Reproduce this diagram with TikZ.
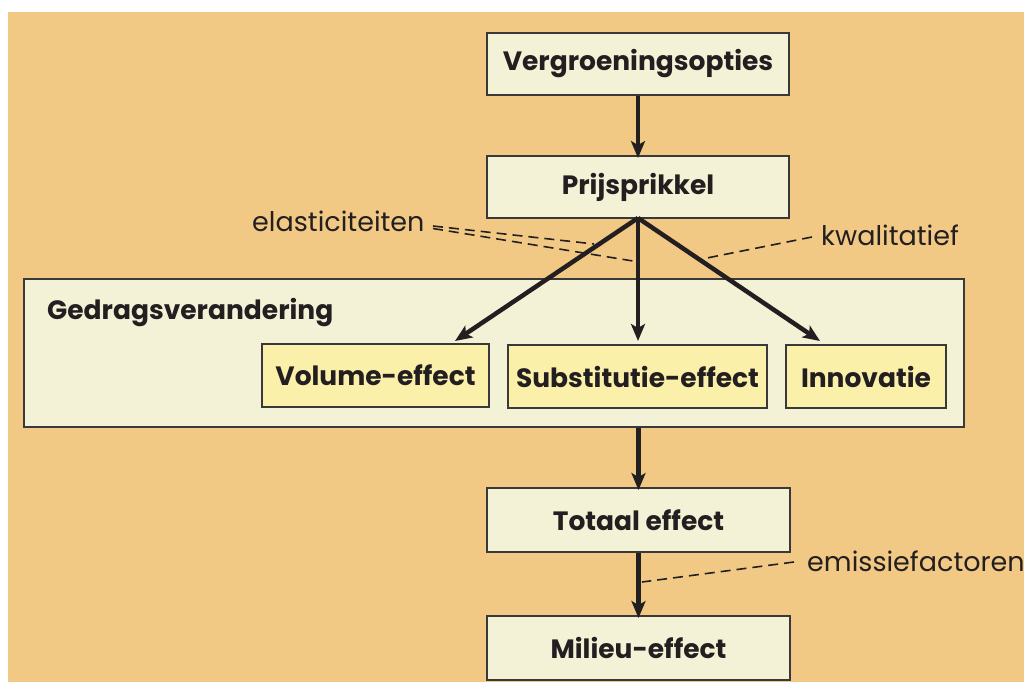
\documentclass[tikz,border=0pt]{standalone}
\usepackage{fontspec}
\setmainfont{Poppins}
\usetikzlibrary{arrows.meta}
\definecolor{bgorange}{HTML}{F2C984}
\definecolor{boxcream}{HTML}{F4F2D6}
\definecolor{boxyellow}{HTML}{FAF0AA}
\definecolor{edge}{HTML}{3A3838}
\definecolor{ink}{HTML}{231F20}
\tikzset{
  box/.style={draw=edge, line width=1.8pt, fill=boxcream, inner sep=0pt, text=ink,
    font=\fontsize{26.5}{30}\selectfont\bfseries},
  ibox/.style={box, fill=boxyellow},
  flow/.style={draw=ink, line width=4.5pt, -{Stealth[length=17pt,width=14pt,inset=4pt]}},
  note/.style={draw=ink, line width=1.6pt, dash pattern=on 10pt off 6pt},
  lbl/.style={text=ink, inner sep=0pt, font=\fontsize{27}{31}\selectfont},
}
\begin{document}
\begin{tikzpicture}[x=1pt, y=-1pt]
\useasboundingbox (0,0) rectangle (1024,682);
\fill[white] (0,0) rectangle (1024,682);
\fill[bgorange] (8,12) rectangle (1024,682);

\node[box, minimum width=302pt, minimum height=62pt] (verg) at (638,64) {Vergroeningsopties};
\node[box, minimum width=302pt, minimum height=62pt] (prijs) at (638,187) {Prijsprikkel};
\node[box, minimum width=940pt, minimum height=148pt] (ged) at (494,353) {};
\node[text=ink, inner sep=0pt, anchor=base west, font=\fontsize{26.5}{30}\selectfont\bfseries] (gedl) at (47,319) {Gedragsverandering};
\node[ibox, minimum width=227pt, minimum height=63pt] (vol) at (375.5,375.5) {Volume-effect};
\node[ibox, minimum width=259pt, minimum height=63pt] (sub) at (637.5,376.5) {Substitutie-effect};
\node[ibox, minimum width=160pt, minimum height=63pt] (inn) at (866,376.5) {Innovatie};
\node[box, minimum width=303pt, minimum height=64pt] (tot) at (638.5,520) {Totaal effect};
\node[box, minimum width=303pt, minimum height=64pt] (mil) at (638.5,648) {Milieu-effect};

\node[lbl, anchor=base west] (ela) at (252,231) {elasticiteiten};
\node[lbl, anchor=base west] (kwa) at (821,245) {kwalitatief};
\node[lbl, anchor=base west] (emi) at (807,571) {emissiefactoren};

\coordinate (ps) at (638,218);
\coordinate (tv) at (455,341);
\coordinate (ts) at (638,341);
\coordinate (ti) at (820,341);

\draw[flow] (verg.south) -- ([yshift=-3pt]prijs.north);
\draw[flow] (ps) -- (tv);
\draw[flow] (ps) -- (ts);
\draw[flow] (ps) -- (ti);
\draw[flow] (ged.south -| tot.north) -- ([yshift=-3pt]tot.north);
\draw[flow] (tot.south) -- ([yshift=-3pt]mil.north);

\coordinate (e1) at (594,244);
\coordinate (e2) at (636,261.5);
\coordinate (k1) at (702,259);
\coordinate (m1) at (642,582);
\draw[note] (433,226) -- (e1);
\draw[note] (433,228.5) -- (e2);
\draw[note] (812,237) -- (k1);
\draw[note] (794,562) -- (m1);
\end{tikzpicture}
\end{document}
